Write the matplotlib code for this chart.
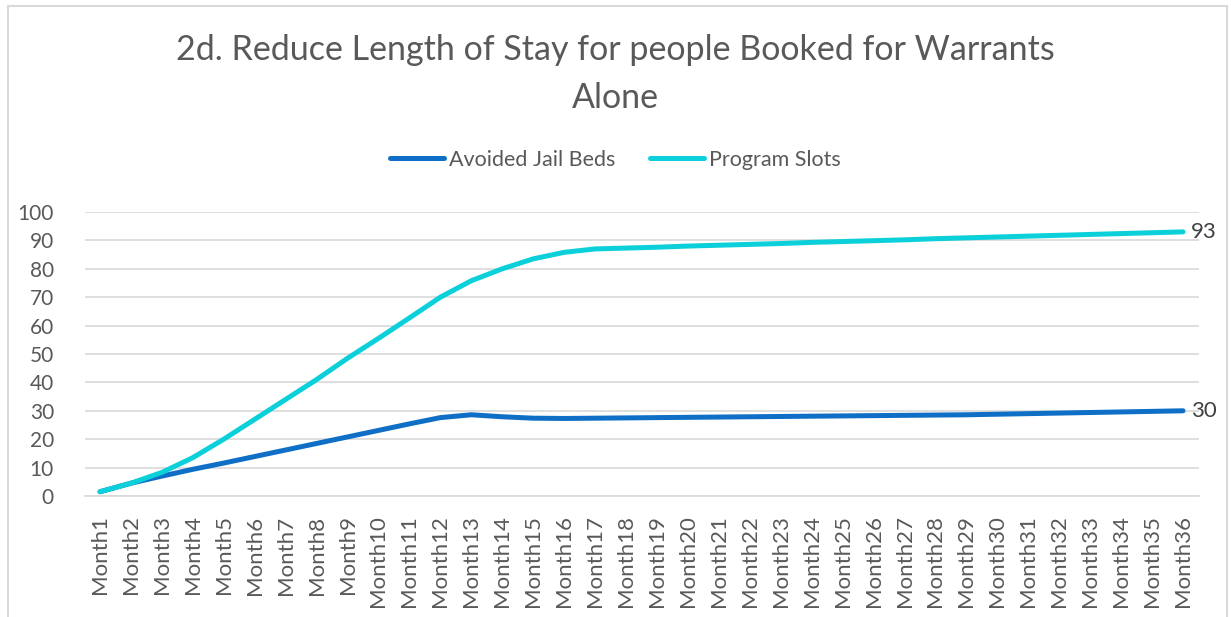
import numpy as np
from matplotlib import pyplot as plt
from matplotlib.patches import Rectangle

# Monthly projections (36 months)
months = ["Month" + str(i) for i in range(1, 37)]

avoidedJailBeds = [1.5, 4.5, 7.0, 9.4, 11.6, 13.9, 16.2, 18.5, 20.8, 23.1, 25.4, 27.6,
                   28.6, 27.9, 27.4, 27.3, 27.4, 27.5, 27.6, 27.7, 27.8, 27.9, 28.0, 28.1,
                   28.2, 28.3, 28.4, 28.5, 28.6, 28.8, 29.0, 29.2, 29.4, 29.6, 29.8, 30.0]

programSlots = [1.5, 4.5, 8.3, 13.5, 20.0, 27.0, 34.0, 41.0, 48.5, 55.5, 62.7, 70.0,
                75.8, 80.0, 83.5, 85.8, 87.0, 87.3, 87.6, 88.0, 88.3, 88.6, 88.9, 89.3,
                89.6, 89.9, 90.2, 90.6, 90.9, 91.2, 91.5, 91.8, 92.1, 92.4, 92.7, 93.0]

seriesNames = ["Avoided Jail Beds", "Program Slots"]
seriesColors = ["#0F6FC6", "#0BD0D9"]

plt.rcParams['font.family'] = ['Lato', 'DejaVu Sans']

W, H = 1231, 617
fig = plt.figure(figsize=(W / 100.0, H / 100.0), dpi=100)

# chart frame
fig.patches.append(Rectangle((8.0 / W, -0.1), (1227.0 - 8.0) / W, 1.1 - 6.0 / H,
                             transform=fig.transFigure, fill=False,
                             edgecolor='#D9D9D9', linewidth=1.5))

left, right = 84.5 / W, 1198.5 / W
bottom, top = 1 - 496.0 / H, 1 - 212.0 / H
ax = fig.add_axes([left, bottom, right - left, top - bottom])

ind = np.arange(len(months))
lines = []
for values, name, color in zip([avoidedJailBeds, programSlots], seriesNames, seriesColors):
    l, = ax.plot(ind, values, color=color, linewidth=3.6, solid_capstyle='round',
                 solid_joinstyle='round', label=name, zorder=3)
    lines.append(l)
    # value label at the last point
    ax.annotate("%.0f" % values[-1], (ind[-1], values[-1]), xytext=(6, 0),
                textcoords='offset points', va='center', ha='left',
                fontsize=16, color='#404040', annotation_clip=False)

ax.set_xlim(-0.5, len(months) - 0.5)
ax.set_ylim(0, 100)
ax.set_yticks(np.arange(0, 101, 10))
ax.set_xticks(ind)
ax.set_xticklabels(months, rotation=90)
ax.tick_params(axis='both', length=0, labelsize=16, labelcolor='#595959')
ax.tick_params(axis='y', pad=22, labelsize=15)
ax.tick_params(axis='x', pad=14)

ax.yaxis.grid(True, color='#D9D9D9', linewidth=1.2)
ax.set_axisbelow(True)
for s in ['top', 'right', 'left']:
    ax.spines[s].set_visible(False)
ax.spines['bottom'].set_color('#D9D9D9')
ax.spines['bottom'].set_linewidth(1.2)

fig.text(0.5, 1 - 74.0 / H, "2d. Reduce Length of Stay for people Booked for Warrants\nAlone",
         ha='center', va='center', fontsize=24.5, color='#595959', linespacing=1.6)

fig.legend(lines, seriesNames, loc='center', bbox_to_anchor=(0.5, 1 - 160.0 / H),
           ncol=2, frameon=False, fontsize=15.5, labelcolor='#595959',
           handlelength=2.5, handletextpad=0.25, columnspacing=1.6)

fig.savefig("out.png", dpi=100)
